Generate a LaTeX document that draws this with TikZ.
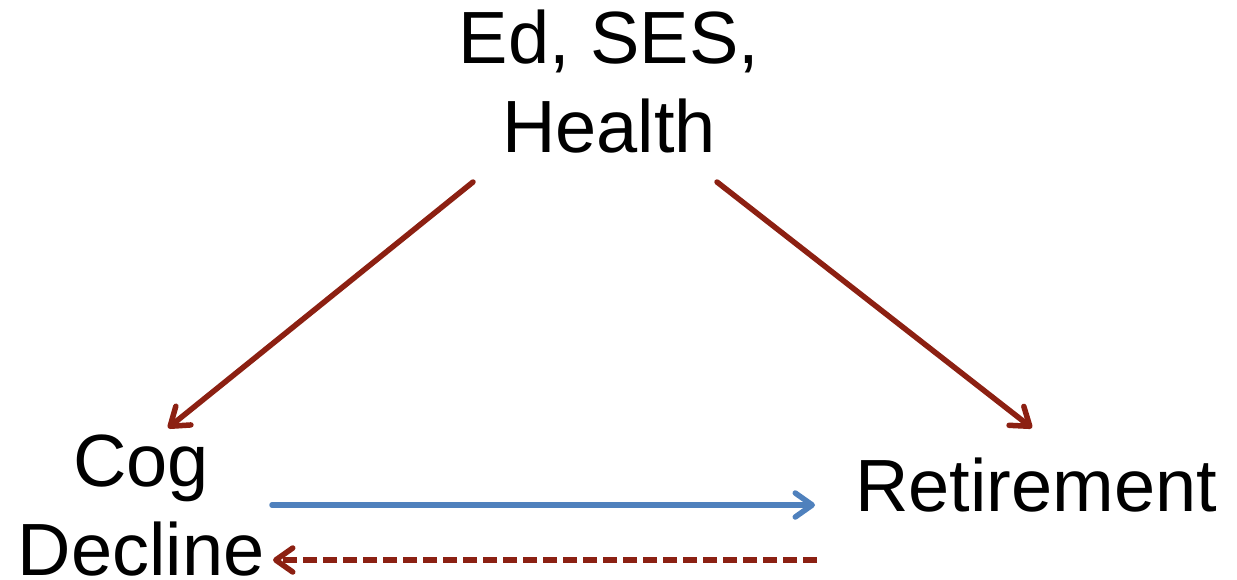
\documentclass[tikz,border=0pt]{standalone}
\usepackage{fontspec}
\setmainfont{Liberation Sans}
\usetikzlibrary{arrows.meta}
\definecolor{darkred}{RGB}{140,32,18}
\definecolor{steelblue}{RGB}{79,129,189}
\tikzset{
  lbl/.style={inner sep=0pt, align=center, font=\fontsize{74}{89}\selectfont},
  conn/.style={line width=5.5pt, line cap=round, -{Straight Barb[length=17pt,width=24pt,line width=5.5pt,round]}},
}
\begin{document}
\begin{tikzpicture}[x=1pt,y=-1pt]
\useasboundingbox (0,0) rectangle (1237,579);
\node[lbl, anchor=base] (top) at (609,152) {Ed, SES,\\Health};
\node[lbl, anchor=base] (cog) at (141,575) {Cog\\Decline};
\node[lbl, anchor=base] (ret) at (1036,511) {Retirement};
\coordinate (a1) at (473,182);
\coordinate (a2) at (168,428);
\coordinate (b1) at (717,182);
\coordinate (b2) at (1032,428);
\coordinate (c1) at (272,505);
\coordinate (c2) at (815,505);
\coordinate (d1) at (817,560);
\coordinate (d2) at (273,560);
\draw[conn, darkred] (a1) -- (a2);
\draw[conn, darkred] (b1) -- (b2);
\draw[conn, steelblue] (c1) -- (c2);
\draw[conn, darkred, line cap=butt, dash pattern=on 14pt off 6pt] (d1) -- (d2);
\end{tikzpicture}
\end{document}
